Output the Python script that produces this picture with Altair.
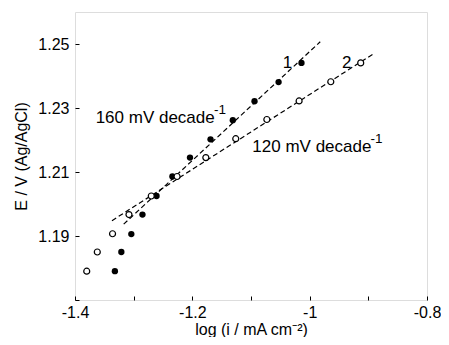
import altair as alt
import pandas as pd

# Series 1 (filled circles)
s1_x = [-1.332, -1.321, -1.304, -1.285, -1.261, -1.234, -1.204, -1.169, -1.131, -1.094, -1.053, -1.014]
s1_y = [1.179, 1.185, 1.1906, 1.1967, 1.2025, 1.2086, 1.2145, 1.2202, 1.2262, 1.2321, 1.2381, 1.2441]
# Series 2 (open circles)
s2_x = [-1.380, -1.362, -1.336, -1.308, -1.270, -1.226, -1.177, -1.126, -1.073, -1.018, -0.964, -0.913]
s2_y = [1.179, 1.185, 1.1907, 1.1967, 1.2025, 1.2086, 1.2145, 1.2204, 1.2264, 1.2322, 1.2382, 1.2441]
# Tafel fit lines
fit1_x = [-1.317, -0.982]
fit1_y = [1.1937, 1.2507]
fit2_x = [-1.337, -0.889]
fit2_y = [1.1948, 1.2472]

# Axis ticks
x_ticks = [-1.4, -1.35, -1.3, -1.25, -1.2, -1.15, -1.1, -1.05, -1.0, -0.95, -0.9, -0.85, -0.8]
y_ticks = [1.17, 1.18, 1.19, 1.20, 1.21, 1.22, 1.23, 1.24, 1.25, 1.26]

# Annotations
ann_text = ["1", "2", "160 mV decade", "120 mV decade"]
ann_x = [-1.046, -0.945, -1.3648, -1.0977]
ann_y = [1.2425, 1.2425, 1.2252, 1.2162]
sup_text = ["-1", "-1"]
sup_x = [-1.163, -0.8963]
sup_y = [1.2282, 1.2190]

FONT = "Arial, Liberation Sans, Helvetica, sans-serif"

pts1 = pd.DataFrame({"x": s1_x, "y": s1_y})
pts2 = pd.DataFrame({"x": s2_x, "y": s2_y})
l1 = pd.DataFrame({"x": fit1_x, "y": fit1_y})
l2 = pd.DataFrame({"x": fit2_x, "y": fit2_y})
ann = pd.DataFrame({"t": ann_text, "x": ann_x, "y": ann_y})
sup = pd.DataFrame({"t": sup_text, "x": sup_x, "y": sup_y})

xscale = alt.Scale(domain=[-1.4, -0.8], nice=False, zero=False)
yscale = alt.Scale(domain=[1.17, 1.26], nice=False, zero=False)

xaxis = alt.Axis(
    title="log (i / mA cm⁻²)",
    values=x_ticks,
    offset=-4, tickSize=4, tickColor="black", tickWidth=1,
    domain=False, grid=False,
    labelExpr="abs(datum.value*10 - round(datum.value*10)) < 0.001 && round(datum.value*10) % 2 == 0 ? toString(datum.value) : ''",
    labelOverlap=False, labelFlush=False, labelPadding=4,
    labelFont=FONT, labelFontSize=16, labelColor="black",
    titleFont=FONT, titleFontSize=16, titleFontWeight="normal", titleColor="black",
    titlePadding=1,
)
yaxis = alt.Axis(
    title="E / V (Ag/AgCl)",
    values=y_ticks,
    offset=-4, tickSize=4, tickColor="black", tickWidth=1,
    domain=False, grid=False,
    labelExpr="round(datum.value*100) % 2 == 1 && round(datum.value*100) >= 119 ? format(datum.value, '.2f') : ''",
    labelOverlap=False, labelFlush=False, labelPadding=6,
    labelFont=FONT, labelFontSize=16, labelColor="black",
    titleFont=FONT, titleFontSize=16, titleFontWeight="normal", titleColor="black",
    titlePadding=8,
)

lines1 = alt.Chart(l1).mark_line(color="black", strokeDash=[5, 3], strokeWidth=1.2).encode(
    x=alt.X("x:Q", scale=xscale, axis=xaxis),
    y=alt.Y("y:Q", scale=yscale, axis=yaxis),
)
lines2 = alt.Chart(l2).mark_line(color="black", strokeDash=[5, 3], strokeWidth=1.2).encode(
    x=alt.X("x:Q", scale=xscale), y=alt.Y("y:Q", scale=yscale)
)
filled = alt.Chart(pts1).mark_point(shape="circle", filled=True, color="black", size=40, opacity=1).encode(
    x="x:Q", y="y:Q"
)
opened = alt.Chart(pts2).mark_point(shape="circle", filled=False, color="black", fill="white",
                                    fillOpacity=1, size=36, strokeWidth=1.2, opacity=1).encode(
    x="x:Q", y="y:Q"
)
labels = alt.Chart(ann).mark_text(font=FONT, fontSize=17, color="black", align="left", baseline="alphabetic").encode(
    x="x:Q", y="y:Q", text="t:N"
)
sups = alt.Chart(sup).mark_text(font=FONT, fontSize=13.5, color="black", align="left", baseline="alphabetic").encode(
    x="x:Q", y="y:Q", text="t:N"
)

chart = alt.layer(lines1, lines2, filled, opened, labels, sups).properties(
    width=352, height=288,
    padding={"left": 67, "top": 4, "right": 14, "bottom": 37},
    autosize=alt.AutoSizeParams(type="none"),
).configure_view(stroke="black", strokeWidth=1.2).configure(background="white")

chart.save("out.html", embed_options={"renderer": "svg", "actions": False})
